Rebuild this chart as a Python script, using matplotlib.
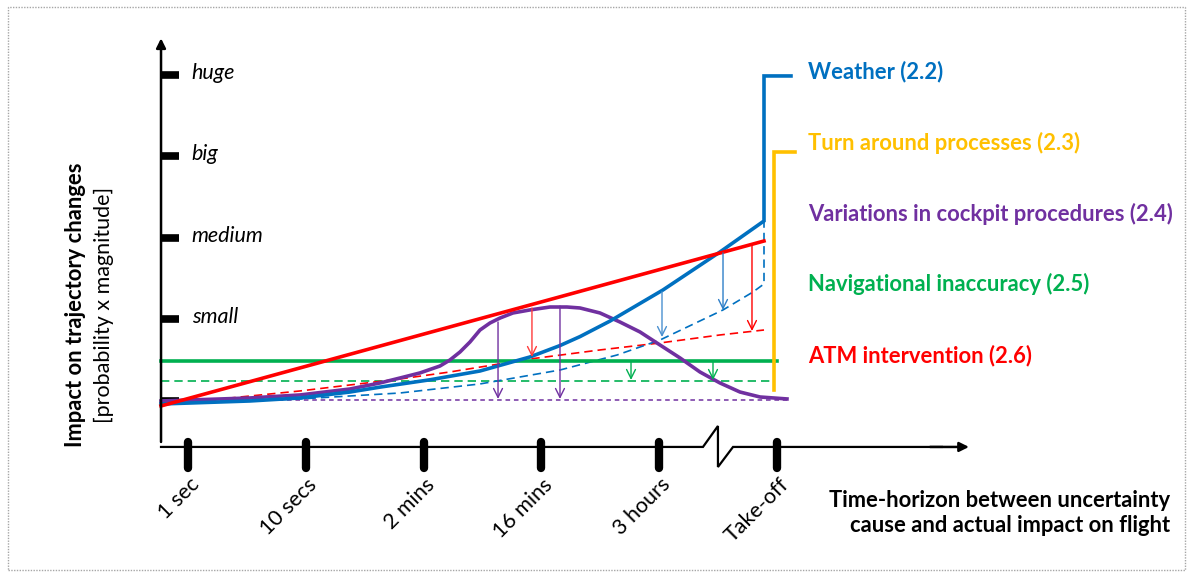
import matplotlib
matplotlib.use("Agg")
import matplotlib.pyplot as plt
from matplotlib.patches import Rectangle

plt.rcParams['font.family'] = ['Lato', 'DejaVu Sans']

# x: index of time-horizon tick, y: impact level (0 none .. 4 huge)
time_labels = ["1 sec", "10 secs", "2 mins", "16 mins", "3 hours", "Take-off"]
level_labels = ["small", "medium", "big", "huge"]
level_values = [1, 2, 3, 4]

# curves
red_x = [-0.229, 4.890]
red_y = [-0.061, 1.963]

red_dash_x = [-0.229, 0.526, 0.951, 1.800, 2.224, 2.903, 3.497, 4.007, 4.516, 4.890]
red_dash_y = [-0.049, 0.061, 0.123, 0.270, 0.356, 0.515, 0.626, 0.712, 0.810, 0.871]

blue_x = [-0.229, 0.526, 0.951, 1.375, 1.630, 2.054, 2.479, 2.903, 3.158, 3.328, 3.582, 4.032,
          4.516, 4.890, 4.890, 5.119]
blue_y = [-0.037, 0.0, 0.037, 0.110, 0.170, 0.260, 0.368, 0.540, 0.680, 0.790, 0.980, 1.362,
          1.828, 2.209, 3.988, 3.988]

blue_dash_x = [-0.229, 0.951, 1.800, 2.479, 3.158, 3.642, 4.007, 4.542, 4.796, 4.890, 4.890]
blue_dash_y = [-0.037, 0.025, 0.098, 0.209, 0.380, 0.564, 0.748, 1.117, 1.337, 1.436, 2.209]

purple_x = [-0.229, 0.526, 0.951, 1.375, 1.630, 1.800, 1.969, 2.139, 2.224, 2.309, 2.394, 2.479,
            2.564, 2.649, 2.759, 2.903, 3.073, 3.217, 3.328, 3.497, 3.667, 3.837, 4.007, 4.177,
            4.346, 4.516, 4.686, 4.856, 5.085]
purple_y = [0.0, 0.037, 0.074, 0.147, 0.221, 0.282, 0.344, 0.429, 0.503, 0.601, 0.724, 0.871,
            0.957, 1.018, 1.080, 1.117, 1.153, 1.153, 1.141, 1.080, 0.969, 0.847, 0.687, 0.528,
            0.356, 0.221, 0.110, 0.049, 0.025]
purple_dot_x = [-0.229, 5.085]
purple_dot_y = [0.012, 0.012]

green_x = [-0.229, 5.0]
green_y = [0.491, 0.491]
green_dash_x = [-0.229, 4.958]
green_dash_y = [0.245, 0.245]

yellow_x = [4.975, 4.975, 5.153]
yellow_y = [0.135, 3.055, 3.055]

# reduction arrows: x, from, to
arrow_x = [2.632, 3.158, 2.920, 4.788, 4.024, 4.542, 3.761, 4.457]
arrow_from = [0.969, 1.165, 1.140, 1.914, 1.340, 1.816, 0.491, 0.491]
arrow_to = [0.025, 0.025, 0.540, 0.859, 0.785, 1.117, 0.258, 0.258]
arrow_col = ['#7030A0', '#7030A0', '#FF3B3B', '#FF0000', '#4A90D0', '#2E7FC8', '#00B050', '#00B050']

legend_names = ["Weather (2.2)", "Turn around processes (2.3)",
                "Variations in cockpit procedures (2.4)", "Navigational inaccuracy (2.5)",
                "ATM intervention (2.6)"]
legend_y = [4.037, 3.166, 2.294, 1.436, 0.564]
legend_col = ['#0070C0', '#FFC000', '#7030A0', '#00B050', '#FF0000']

fig = plt.figure(figsize=(11.89, 5.74), dpi=100)
ax = fig.add_axes([0, 0, 1, 1])
ax.set_xlim(-1.596, 8.498)
ax.set_ylim(-2.123, 4.920)
ax.axis('off')

# border
fig.patches.append(Rectangle((8 / 1189, 4 / 574), 1177 / 1189, 563 / 574, transform=fig.transFigure,
                             fill=False, edgecolor='#A6A6A6', linewidth=1.0, linestyle=(0, (1, 1))))

# axes with arrows
ax.annotate('', xy=(-0.229, 4.45), xytext=(-0.229, -0.503),
            arrowprops=dict(arrowstyle='-|>', color='black', lw=1.8, mutation_scale=14, shrinkA=0, shrinkB=0))
axis_x = [-0.229, 4.372, 4.499, 4.499, 4.627, 6.4]
axis_y = [-0.564, -0.564, -0.307, -0.810, -0.564, -0.564]
ax.plot(axis_x, axis_y, color='black', lw=1.6, solid_joinstyle='miter')
ax.annotate('', xy=(6.63, -0.564), xytext=(6.3, -0.564),
            arrowprops=dict(arrowstyle='-|>', color='black', lw=1.8, mutation_scale=14, shrinkA=0, shrinkB=0))

# ticks
for i, lab in enumerate(time_labels):
    ax.plot([i, i], [-0.503, -0.822], color='black', lw=6, solid_capstyle='round')
    ax.text(i + 0.07, -0.99, lab, rotation=45, ha='right', va='center', rotation_mode='anchor',
            fontsize=15.5)
for v, lab in zip([0] + level_values, [""] + level_labels):
    ax.plot([-0.229, -0.075], [v, v], color='black', lw=5.5, solid_capstyle='butt')
    if lab:
        ax.text(0.03, v + 0.03, lab, ha='left', va='center', fontsize=15.5, style='italic')

# curves
ax.plot(purple_dot_x, purple_dot_y, color='#7030A0', lw=1.1, dashes=(3, 2.5))
ax.plot(green_dash_x, green_dash_y, color='#00B050', lw=1.2, dashes=(5, 3))
ax.plot(red_dash_x, red_dash_y, color='#FF0000', lw=1.2, dashes=(5, 3))
ax.plot(blue_dash_x, blue_dash_y, color='#0070C0', lw=1.2, dashes=(5, 3))
ax.plot(green_x, green_y, color='#00B050', lw=2.6)
ax.plot(yellow_x, yellow_y, color='#FFC000', lw=2.6, solid_joinstyle='miter')
ax.plot(purple_x, purple_y, color='#7030A0', lw=2.6, solid_joinstyle='round')
ax.plot(blue_x, blue_y, color='#0070C0', lw=2.6, solid_joinstyle='miter')
ax.plot(red_x, red_y, color='#FF0000', lw=2.6)

for x, y0, y1, c in zip(arrow_x, arrow_from, arrow_to, arrow_col):
    ax.annotate('', xy=(x, y1), xytext=(x, y0),
                arrowprops=dict(arrowstyle='->', color=c, lw=1.0, mutation_scale=16, shrinkA=0, shrinkB=0))

for name, y, c in zip(legend_names, legend_y, legend_col):
    ax.text(5.263, y, name, color=c, fontsize=15.8, fontweight='bold', ha='left', va='center')

ax.text(8.336, -1.37, "Time-horizon between uncertainty\ncause and actual impact on flight",
        ha='right', va='center', multialignment='right', fontsize=15.8, fontweight='bold', linespacing=1.25)
ax.text(-0.951, 1.178, "Impact on trajectory changes", rotation=90, ha='center', va='center',
        fontsize=15.8, fontweight='bold')
ax.text(-0.715, 1.178, "[probability x magnitude]", rotation=90, ha='center', va='center', fontsize=15.5)

fig.savefig('out.png', dpi=100)
